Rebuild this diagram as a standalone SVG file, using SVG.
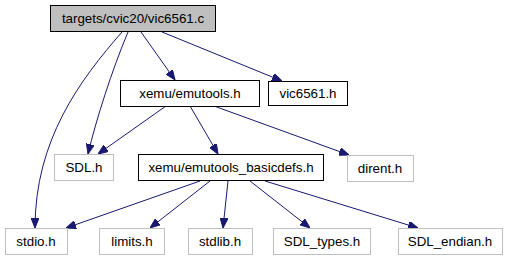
<svg xmlns="http://www.w3.org/2000/svg" width="508" height="261" viewBox="0 0 508 261">
<defs>
  <marker id="arrow" viewBox="0 0 10 8" refX="10" refY="4" markerWidth="10" markerHeight="8" markerUnits="userSpaceOnUse" orient="auto">
    <path d="M0,0 L10,4 L0,8 Z" fill="#191970" stroke="#191970" stroke-width="1"/>
  </marker>
  <style>
    .box { fill: #ffffff; stroke: #000000; stroke-width: 1; }
    .root { fill: #bfbfbf; stroke: #000000; stroke-width: 1; }
    .ext { fill: #ffffff; stroke: #bfbfbf; stroke-width: 1; }
    .lbl { font-family: "Liberation Sans", Arial, sans-serif; font-size: 13.33px; fill: #000000; text-anchor: middle; }
    .edge { fill: none; stroke: #191970; stroke-width: 1; marker-end: url(#arrow); }
  </style>
</defs>
<rect width="508" height="261" fill="#ffffff"/>

<g id="edges">
  <path class="edge" d="M122,32 C80,80 35,140 35,228"/>
  <path class="edge" d="M128,32 C112,70 96,120 88,154"/>
  <path class="edge" d="M141,32 L175,80"/>
  <path class="edge" d="M162,32 L282,81"/>
  <path class="edge" d="M166,106 L98,154"/>
  <path class="edge" d="M190,106 L218,154"/>
  <path class="edge" d="M214,106 L349,155"/>
  <path class="edge" d="M200,181 L66,228"/>
  <path class="edge" d="M210,181 L150,228"/>
  <path class="edge" d="M228,181 L223,228"/>
  <path class="edge" d="M250,181 L310,228"/>
  <path class="edge" d="M265,181 L418,228"/>
</g>

<g id="node_vic6561_c">
  <rect class="root" x="50.5" y="5.5" width="165" height="26"/>
  <text class="lbl" x="133" y="23">targets/cvic20/vic6561.c</text>
</g>
<g id="node_emutools_h">
  <rect class="box" x="120.5" y="80.5" width="139" height="26"/>
  <text class="lbl" x="190" y="98">xemu/emutools.h</text>
</g>
<g id="node_vic6561_h">
  <rect class="box" x="268.5" y="81.5" width="79" height="24"/>
  <text class="lbl" x="308" y="98">vic6561.h</text>
</g>
<g id="node_SDL_h">
  <rect class="ext" x="54.5" y="154.5" width="59" height="26"/>
  <text class="lbl" x="84" y="172">SDL.h</text>
</g>
<g id="node_basicdefs_h">
  <rect class="box" x="138.5" y="154.5" width="185" height="26"/>
  <text class="lbl" x="231" y="172">xemu/emutools_basicdefs.h</text>
</g>
<g id="node_dirent_h">
  <rect class="ext" x="347.5" y="155.5" width="66" height="26"/>
  <text class="lbl" x="380" y="173">dirent.h</text>
</g>
<g id="node_stdio_h">
  <rect class="ext" x="5.5" y="228.5" width="62" height="26"/>
  <text class="lbl" x="36" y="246">stdio.h</text>
</g>
<g id="node_limits_h">
  <rect class="ext" x="99.5" y="228.5" width="65" height="26"/>
  <text class="lbl" x="132" y="246">limits.h</text>
</g>
<g id="node_stdlib_h">
  <rect class="ext" x="188.5" y="228.5" width="64" height="26"/>
  <text class="lbl" x="220" y="246">stdlib.h</text>
</g>
<g id="node_SDL_types_h">
  <rect class="ext" x="273.5" y="228.5" width="97" height="26"/>
  <text class="lbl" x="322" y="246">SDL_types.h</text>
</g>
<g id="node_SDL_endian_h">
  <rect class="ext" x="398.5" y="228.5" width="104" height="26"/>
  <text class="lbl" x="450" y="246">SDL_endian.h</text>
</g>
</svg>
